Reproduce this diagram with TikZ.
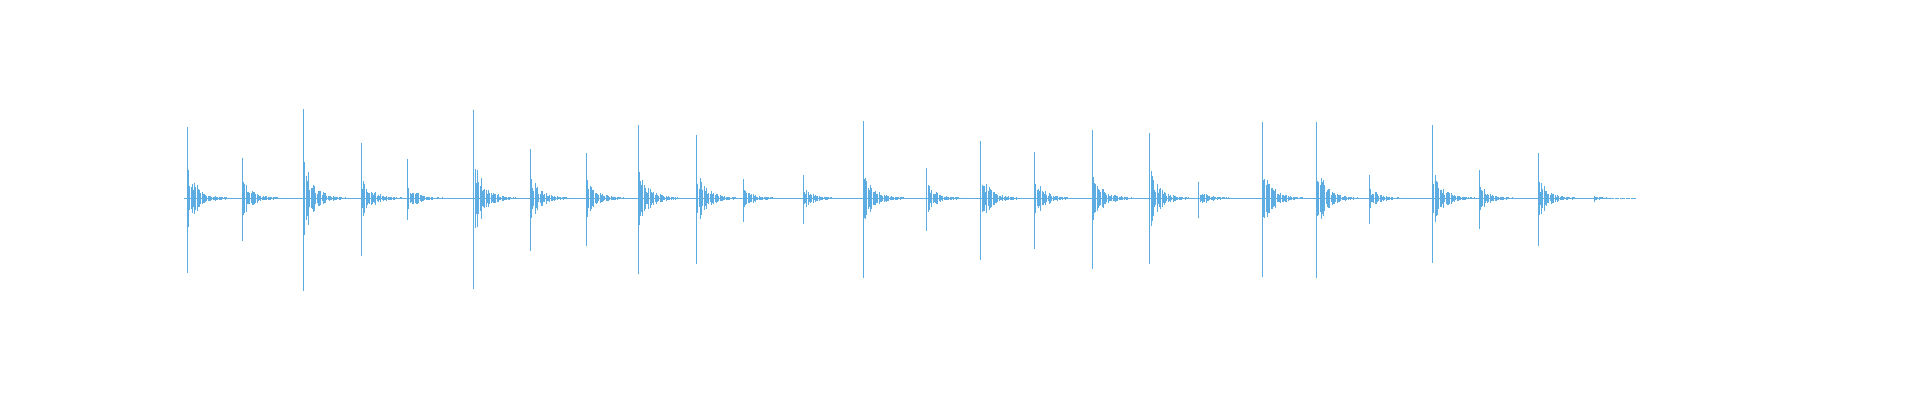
\documentclass[tikz,border=0pt]{standalone}
\definecolor{wave}{HTML}{5DADE2}
\begin{document}
\begin{tikzpicture}[x=1.2245pt,y=-1.2245pt,spike/.style={draw=wave,line width=0.9pt},tail/.style={draw=wave,line width=1pt}]
\useasboundingbox (0,0) rectangle (1568,326.6);
\pgfmathsetseed{7}
\coordinate (b0) at (150,162);
\coordinate (b1) at (1318,162);
\draw[wave,line width=0.6pt] (b0) -- (b1);
\foreach \x/\t/\b in {153/104/223,198/129/197,248/89/238,295/117/209,333/130/180,387/90/236,433/122/205,479/125/201,521/102/224,569/110/216,607/146/181,656/143/183,705/99/227,757/137/189,801/115/212,845/124/203,892/106/220,939/109/216,979/149/178,1031/100/226,1075/100/227,1118/143/183,1170/102/215,1208/139/187,1256/125/201,1302/160/165}{
  \draw[spike] (\x,\t) -- (\x,\b);
  \pgfmathsetmacro{\amp}{(\b-\t)/2}
  \foreach \k in {1,...,34}{
    \pgfmathsetmacro{\a}{0.32*\amp*exp(-\k/8)*(0.5+rnd)+0.4}
    \draw[tail] (\x+\k,162-\a) -- (\x+\k,162+\a);
  }
}
\end{tikzpicture}
\end{document}
